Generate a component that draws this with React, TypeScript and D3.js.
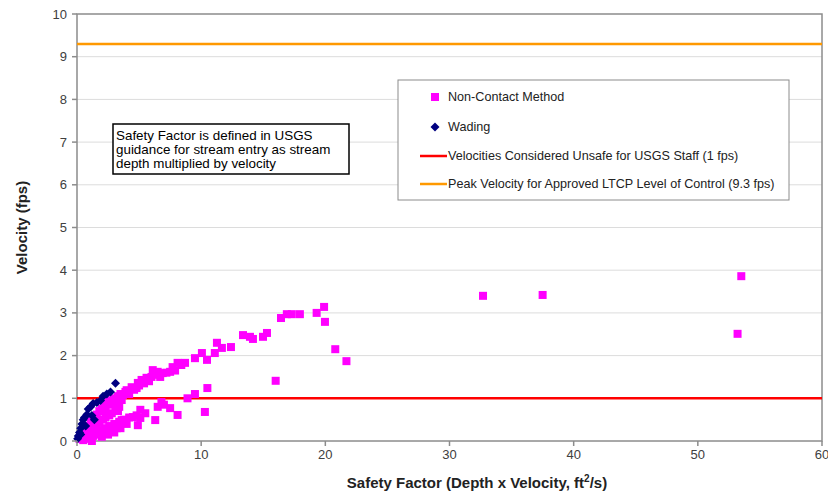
import React from "react";
import * as d3 from "d3";

// Safety factor (ft²/s) and velocity (fps) for each measurement
const nonContactSF = [
  0.2, 0.4, 0.5, 0.7, 0.8, 1.0, 1.1, 1.3, 1.5, 1.6, 1.8, 2.0, 2.2, 2.3, 2.5, 2.7, 2.9, 3.0, 3.2, 3.3,
  3.5, 3.6, 3.7, 3.9, 4.0, 4.2, 4.4, 4.6, 4.8, 4.9, 5.0, 5.2, 5.4, 5.6, 5.8, 6.0, 6.1, 6.3, 6.5, 6.7,
  6.9, 7.2, 7.5, 7.7, 7.9, 8.1, 8.4, 8.7, 9.5, 10.06, 10.47, 11.1, 11.27, 11.67, 12.4, 13.37, 13.93, 14.17, 14.98, 15.3,
  16.43, 16.9, 17.3, 17.95, 19.3, 19.9, 19.97, 20.8, 21.7, 16.0, 32.7, 37.5, 53.5, 53.2,
  0.5, 0.8, 1.0, 1.3, 1.5, 1.7, 1.9, 2.2, 2.4, 2.6, 2.8, 3.0, 3.2, 3.4, 3.6, 3.8, 4.2, 4.5, 4.8, 4.9,
  5.1, 5.1, 5.5, 6.3, 6.5, 6.8, 7.0, 7.5, 8.1, 8.9, 9.5, 10.3, 10.5, 2.0, 1.2, 2.6, 3.1, 1.4, 2.1, 3.4,
  1.8, 2.3, 2.8, 3.3, 1.2, 0.9, 2.5, 3.0, 3.5, 4.0, 1.6, 2.4,
];
const nonContactV = [
  0.05, 0.1, 0.2, 0.15, 0.3, 0.35, 0.45, 0.5, 0.55, 0.62, 0.7, 0.75, 0.8, 0.7, 0.85, 0.9, 0.95, 1.0, 0.9, 1.05,
  1.1, 0.96, 1.08, 1.15, 1.19, 1.1, 1.26, 1.2, 1.24, 1.36, 1.3, 1.43, 1.35, 1.48, 1.4, 1.5, 1.66, 1.55, 1.62, 1.5,
  1.59, 1.6, 1.62, 1.73, 1.65, 1.83, 1.78, 1.83, 1.94, 2.06, 1.9, 2.06, 2.3, 2.18, 2.2, 2.48, 2.44, 2.39, 2.44, 2.53,
  2.88, 2.97, 2.97, 2.97, 3.0, 3.14, 2.79, 2.15, 1.87, 1.41, 3.4, 3.42, 3.86, 2.51,
  0.02, 0.05, 0.1, 0.12, 0.2, 0.15, 0.25, 0.3, 0.22, 0.35, 0.28, 0.4, 0.3, 0.45, 0.49, 0.5, 0.55, 0.56, 0.6, 0.37,
  0.54, 0.73, 0.65, 0.49, 0.8, 0.91, 0.85, 0.77, 0.61, 1.0, 1.1, 0.68, 1.24, 0.1, 0.0, 0.6, 0.75, 0.3, 0.5, 0.8,
  0.45, 0.55, 0.65, 0.7, 0.25, 0.2, 0.15, 0.2, 0.3, 0.4, 0.35, 0.95,
];
const wadingSF = [
  0.05, 0.1, 0.2, 0.3, 0.4, 0.5, 0.6, 0.8, 0.9, 1.1, 1.3, 1.6, 1.9, 2.1, 2.4, 2.7, 3.1, 1.4, 1.2, 0.7, 0.3,
];
const wadingV = [
  0.05, 0.12, 0.2, 0.3, 0.4, 0.5, 0.55, 0.62, 0.75, 0.8, 0.88, 0.9, 0.95, 1.05, 1.1, 1.15, 1.35, 0.5, 0.6, 0.35, 0.15,
];

const unsafeVelocity = 1;
const peakVelocity = 9.3;

const xTicks = [0, 10, 20, 30, 40, 50, 60];
const yTicks = [0, 1, 2, 3, 4, 5, 6, 7, 8, 9, 10];

const legendLabels = [
  "Non-Contact Method",
  "Wading",
  "Velocities Considered Unsafe for USGS Staff (1 fps)",
  "Peak Velocity for Approved LTCP Level of Control (9.3 fps)",
];
const noteLines = [
  "Safety Factor is defined in USGS",
  "guidance for stream entry as stream",
  "depth multiplied by velocity",
];

const W = 828;
const H = 496;
const plot = { left: 77, right: 822, top: 14, bottom: 441 };
const FONT = "'Liberation Sans', Arial, sans-serif";
const PINK = "#ff00ff";
const NAVY = "#000080";
const RED = "#ff0000";
const ORANGE = "#ff9900";

// square diamond marker, 9px corner to corner
const diamond = "M0,-4.5L4.5,0L0,4.5L-4.5,0Z";

export default function App() {
  const x = d3.scaleLinear().domain([0, 60]).range([plot.left, plot.right]);
  const y = d3.scaleLinear().domain([0, 10]).range([plot.bottom, plot.top]);

  const nonContact = nonContactSF.map((sf, i) => [sf, nonContactV[i]] as [number, number]);
  const wading = wadingSF.map((sf, i) => [sf, wadingV[i]] as [number, number]);

  const legend = { x: 398, y: 80, w: 391, h: 120 };
  const legendRows = [97, 127, 156, 184];

  return (
    <svg
      width={W}
      height={H}
      style={{ position: "absolute", left: 0, top: 0, background: "#fff" }}
      fontFamily={FONT}
    >
      {/* horizontal gridlines */}
      {yTicks.slice(1, -1).map((t) => (
        <line key={t} x1={plot.left} x2={plot.right} y1={y(t)} y2={y(t)} stroke="#dcdcdc" strokeWidth={1} />
      ))}
      {/* plot frame */}
      <rect
        x={plot.left}
        y={plot.top}
        width={plot.right - plot.left}
        height={plot.bottom - plot.top}
        fill="none"
        stroke="#8c8c8c"
        strokeWidth={1.5}
      />

      {/* reference velocities */}
      <line x1={plot.left} x2={plot.right} y1={y(unsafeVelocity)} y2={y(unsafeVelocity)} stroke={RED} strokeWidth={2.5} />
      <line x1={plot.left} x2={plot.right} y1={y(peakVelocity)} y2={y(peakVelocity)} stroke={ORANGE} strokeWidth={2.5} />

      {/* measurements */}
      {nonContact.map(([sf, v], i) => (
        <rect key={`n${i}`} x={x(sf) - 4} y={y(v) - 4} width={8} height={8} fill={PINK} />
      ))}
      {wading.map(([sf, v], i) => (
        <path key={`w${i}`} d={diamond} transform={`translate(${x(sf)},${y(v)})`} fill={NAVY} />
      ))}

      {/* axis ticks and labels */}
      {xTicks.map((t) => (
        <g key={`xt${t}`}>
          <line x1={x(t)} x2={x(t)} y1={plot.bottom} y2={plot.bottom + 5} stroke="#8c8c8c" strokeWidth={1.5} />
          <text x={x(t)} y={plot.bottom + 18} textAnchor="middle" fontSize={13} fill="#404040">
            {t}
          </text>
        </g>
      ))}
      {yTicks.map((t) => (
        <g key={`yt${t}`}>
          <line x1={plot.left - 5} x2={plot.left} y1={y(t)} y2={y(t)} stroke="#8c8c8c" strokeWidth={1.5} />
          <text x={plot.left - 10} y={y(t)} dy="0.35em" textAnchor="end" fontSize={13} fill="#404040">
            {t}
          </text>
        </g>
      ))}

      {/* axis titles */}
      <text x={477} y={488} textAnchor="middle" fontSize={15} fontWeight="bold" fill="#222">
        Safety Factor (Depth x Velocity, ft
        <tspan fontSize={10} dy={-6}>2</tspan>
        <tspan dy={6}>/s)</tspan>
      </text>
      <text
        transform={`translate(27,${(plot.top + plot.bottom) / 2}) rotate(-90)`}
        textAnchor="middle"
        fontSize={15}
        fontWeight="bold"
        fill="#222"
      >
        Velocity (fps)
      </text>

      {/* legend */}
      <rect x={legend.x} y={legend.y} width={legend.w} height={legend.h} fill="#fff" stroke="#8c8c8c" strokeWidth={1} />
      <rect x={435 - 4} y={legendRows[0] - 4} width={8} height={8} fill={PINK} />
      <path d={diamond} transform={`translate(435,${legendRows[1]})`} fill={NAVY} />
      <line x1={420} x2={447} y1={legendRows[2]} y2={legendRows[2]} stroke={RED} strokeWidth={2.5} />
      <line x1={420} x2={447} y1={legendRows[3]} y2={legendRows[3]} stroke={ORANGE} strokeWidth={2.5} />
      {legendLabels.map((label, i) => (
        <text key={label} x={448} y={legendRows[i]} dy="0.35em" fontSize={12.6} fill="#222">
          {label}
        </text>
      ))}

      {/* definition note */}
      <rect x={113} y={124} width={236} height={50} fill="#fff" stroke="#000" strokeWidth={1.5} />
      {noteLines.map((line, i) => (
        <text key={line} x={116} y={135 + i * 14} dy="0.35em" fontSize={13.4} fill="#000">
          {line}
        </text>
      ))}
    </svg>
  );
}
